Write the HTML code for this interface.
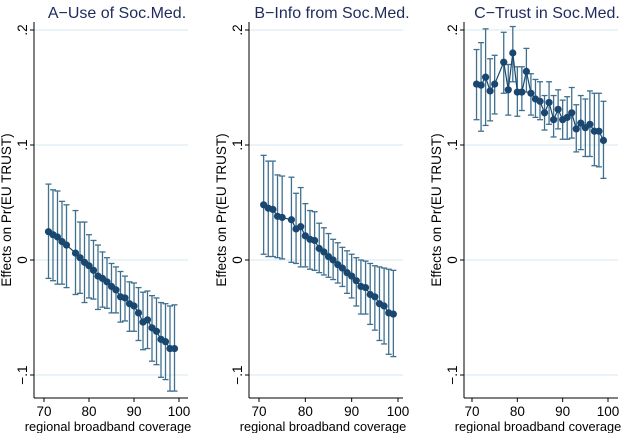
<!DOCTYPE html>
<html><head><meta charset="utf-8"><style>
body{margin:0;background:#fff}
svg{display:block;font-family:"Liberation Sans",sans-serif}
</style></head><body>
<svg id="c" width="623" height="433" viewBox="0 0 623 433"></svg>
<script>
const xs = [71,72,73,74,75,77,78,79,80,81,82,83,84,85,86,87,88,89,90,91,92,93,94,95,96,97,98,99];
const titles = ["A\u2212Use of Soc.Med.","B\u2212Info from Soc.Med.","C\u2212Trust in Soc.Med."];
const yTicks = [0.2,0.1,0,-0.1];
const yTickLabels = [".2",".1","0","\u2212.1"];
const xTicks = [70,80,90,100];
const meanA = [.0246,.022,.020,.016,.013,.006,.002,-.002,-.005,-.009,-.014,-.016,-.019,-.023,-.026,-.032,-.033,-.038,-.040,-.046,-.054,-.052,-.059,-.062,-.069,-.071,-.077,-.077];
const hiA = [.066,.061,.060,.051,.048,.043,.033,.033,.022,.017,.013,.007,.002,-.003,-.006,-.010,-.014,-.019,-.020,-.024,-.028,-.027,-.031,-.033,-.037,-.038,-.040,-.039];
const loA = [-.016,-.018,-.021,-.021,-.024,-.030,-.029,-.037,-.033,-.034,-.043,-.041,-.042,-.046,-.046,-.054,-.053,-.062,-.062,-.070,-.078,-.077,-.088,-.091,-.102,-.104,-.114,-.114];
const meanB = [.048,.045,.044,.038,.037,.035,.027,.029,.021,.018,.017,.010,.007,.003,0,-.004,-.007,-.011,-.014,-.018,-.023,-.024,-.030,-.032,-.038,-.040,-.046,-.047];
const hiB = [.091,.086,.086,.074,.073,.072,.058,.063,.049,.043,.042,.032,.028,.023,.018,.015,.011,.008,.005,.002,0,-.001,-.003,-.005,-.006,-.007,-.008,-.009];
const loB = [.005,.003,.003,.002,.001,-.002,-.003,-.006,-.006,-.008,-.009,-.011,-.013,-.015,-.017,-.020,-.023,-.029,-.033,-.040,-.047,-.047,-.056,-.061,-.070,-.073,-.082,-.084];
const meanC = [.153,.152,.159,.147,.153,.172,.148,.180,.146,.146,.164,.145,.140,.138,.128,.137,.122,.131,.122,.124,.128,.114,.119,.115,.118,.112,.112,.104];
const hiC = [.183,.189,.201,.175,.178,.198,.170,.203,.168,.168,.184,.162,.157,.155,.143,.155,.143,.148,.139,.142,.150,.135,.143,.140,.147,.145,.145,.138];
const loC = [.122,.112,.117,.121,.127,.145,.126,.155,.125,.130,.146,.126,.124,.122,.113,.118,.107,.114,.105,.105,.106,.094,.096,.090,.090,.082,.081,.071];
const series = [[meanA,hiA,loA],[meanB,hiB,loB],[meanC,hiC,loC]];
const NS="http://www.w3.org/2000/svg";
const svg=document.getElementById('c');
function mk(tag,attrs,parent,text){const e=document.createElementNS(NS,tag);for(const k in attrs)e.setAttribute(k,attrs[k]);if(text!==undefined)e.textContent=text;(parent||svg).appendChild(e);return e;}
const panels=[{ax:34,x0:44,x1:179,right:188},{ax:249,x0:259,x1:398,right:403},{ax:464,x0:472,x1:608,right:618}];
const Y=v=>260-v*1150;
panels.forEach((p,i)=>{
  const X=v=>p.x0+(v-70)*(p.x1-p.x0)/30;
  const g=mk('g',{});
  
  
  const t=mk('text',{x:(p.ax+p.right)/2+6,y:18,'text-anchor':'middle','font-size':16,fill:'#1e2b5c'},g,titles[i]);
  
  
  yTicks.forEach((v,k)=>{
    const gl=mk('line',{x1:p.ax,x2:p.right,y1:Y(v),y2:Y(v),stroke:'#d6eaf0','stroke-width':1},g);
    
    
    mk('line',{x1:p.ax-4,x2:p.ax,y1:Y(v),y2:Y(v),stroke:'#000'},g);
    const tl=mk('text',{transform:`translate(${p.ax-7},${Y(v)}) rotate(-90)`,'text-anchor':'middle','font-size':13.5,fill:'#000'},g,yTickLabels[k]);
    
    
  });
  mk('line',{x1:p.ax,x2:p.ax,y1:22,y2:398,stroke:'#000'},g);
  mk('line',{x1:p.ax,x2:p.right,y1:398,y2:398,stroke:'#000'},g);
  xTicks.forEach(v=>{
    mk('line',{x1:X(v),x2:X(v),y1:398,y2:402,stroke:'#000'},g);
    const tl=mk('text',{x:X(v),y:416,'text-anchor':'middle','font-size':13.5,fill:'#000'},g,String(v));
    
    
  });
  const xt=mk('text',{x:(p.ax+p.right)/2-3,y:431,'text-anchor':'middle','font-size':12.8,fill:'#000'},g,'regional broadband coverage');
  
  
  const yt=mk('text',{transform:`translate(${p.ax-23},${(22+398)/2}) rotate(-90)`,'text-anchor':'middle','font-size':13.5,fill:'#000'},g,'Effects on Pr(EU TRUST)');
  
  
  const [m,hi,lo]=series[i];
  xs.forEach((x,j)=>{
    const eb=mk('g',{stroke:'#40708f','stroke-width':1.3},g);
    
    
    mk('line',{x1:X(x),x2:X(x),y1:Y(hi[j]),y2:Y(lo[j])},eb);
    mk('line',{x1:X(x)-3,x2:X(x)+3,y1:Y(hi[j]),y2:Y(hi[j])},eb);
    mk('line',{x1:X(x)-3,x2:X(x)+3,y1:Y(lo[j]),y2:Y(lo[j])},eb);
  });
  const ln=mk('polyline',{points:xs.map((x,j)=>X(x)+','+Y(m[j])).join(' '),fill:'none',stroke:'#1a476f','stroke-width':1.2},g);
  
  
  xs.forEach((x,j)=>{
    const c=mk('circle',{cx:X(x),cy:Y(m[j]),r:3.6,fill:'#1a476f'},g);
    
    
  });
});
</script>
</body></html>
